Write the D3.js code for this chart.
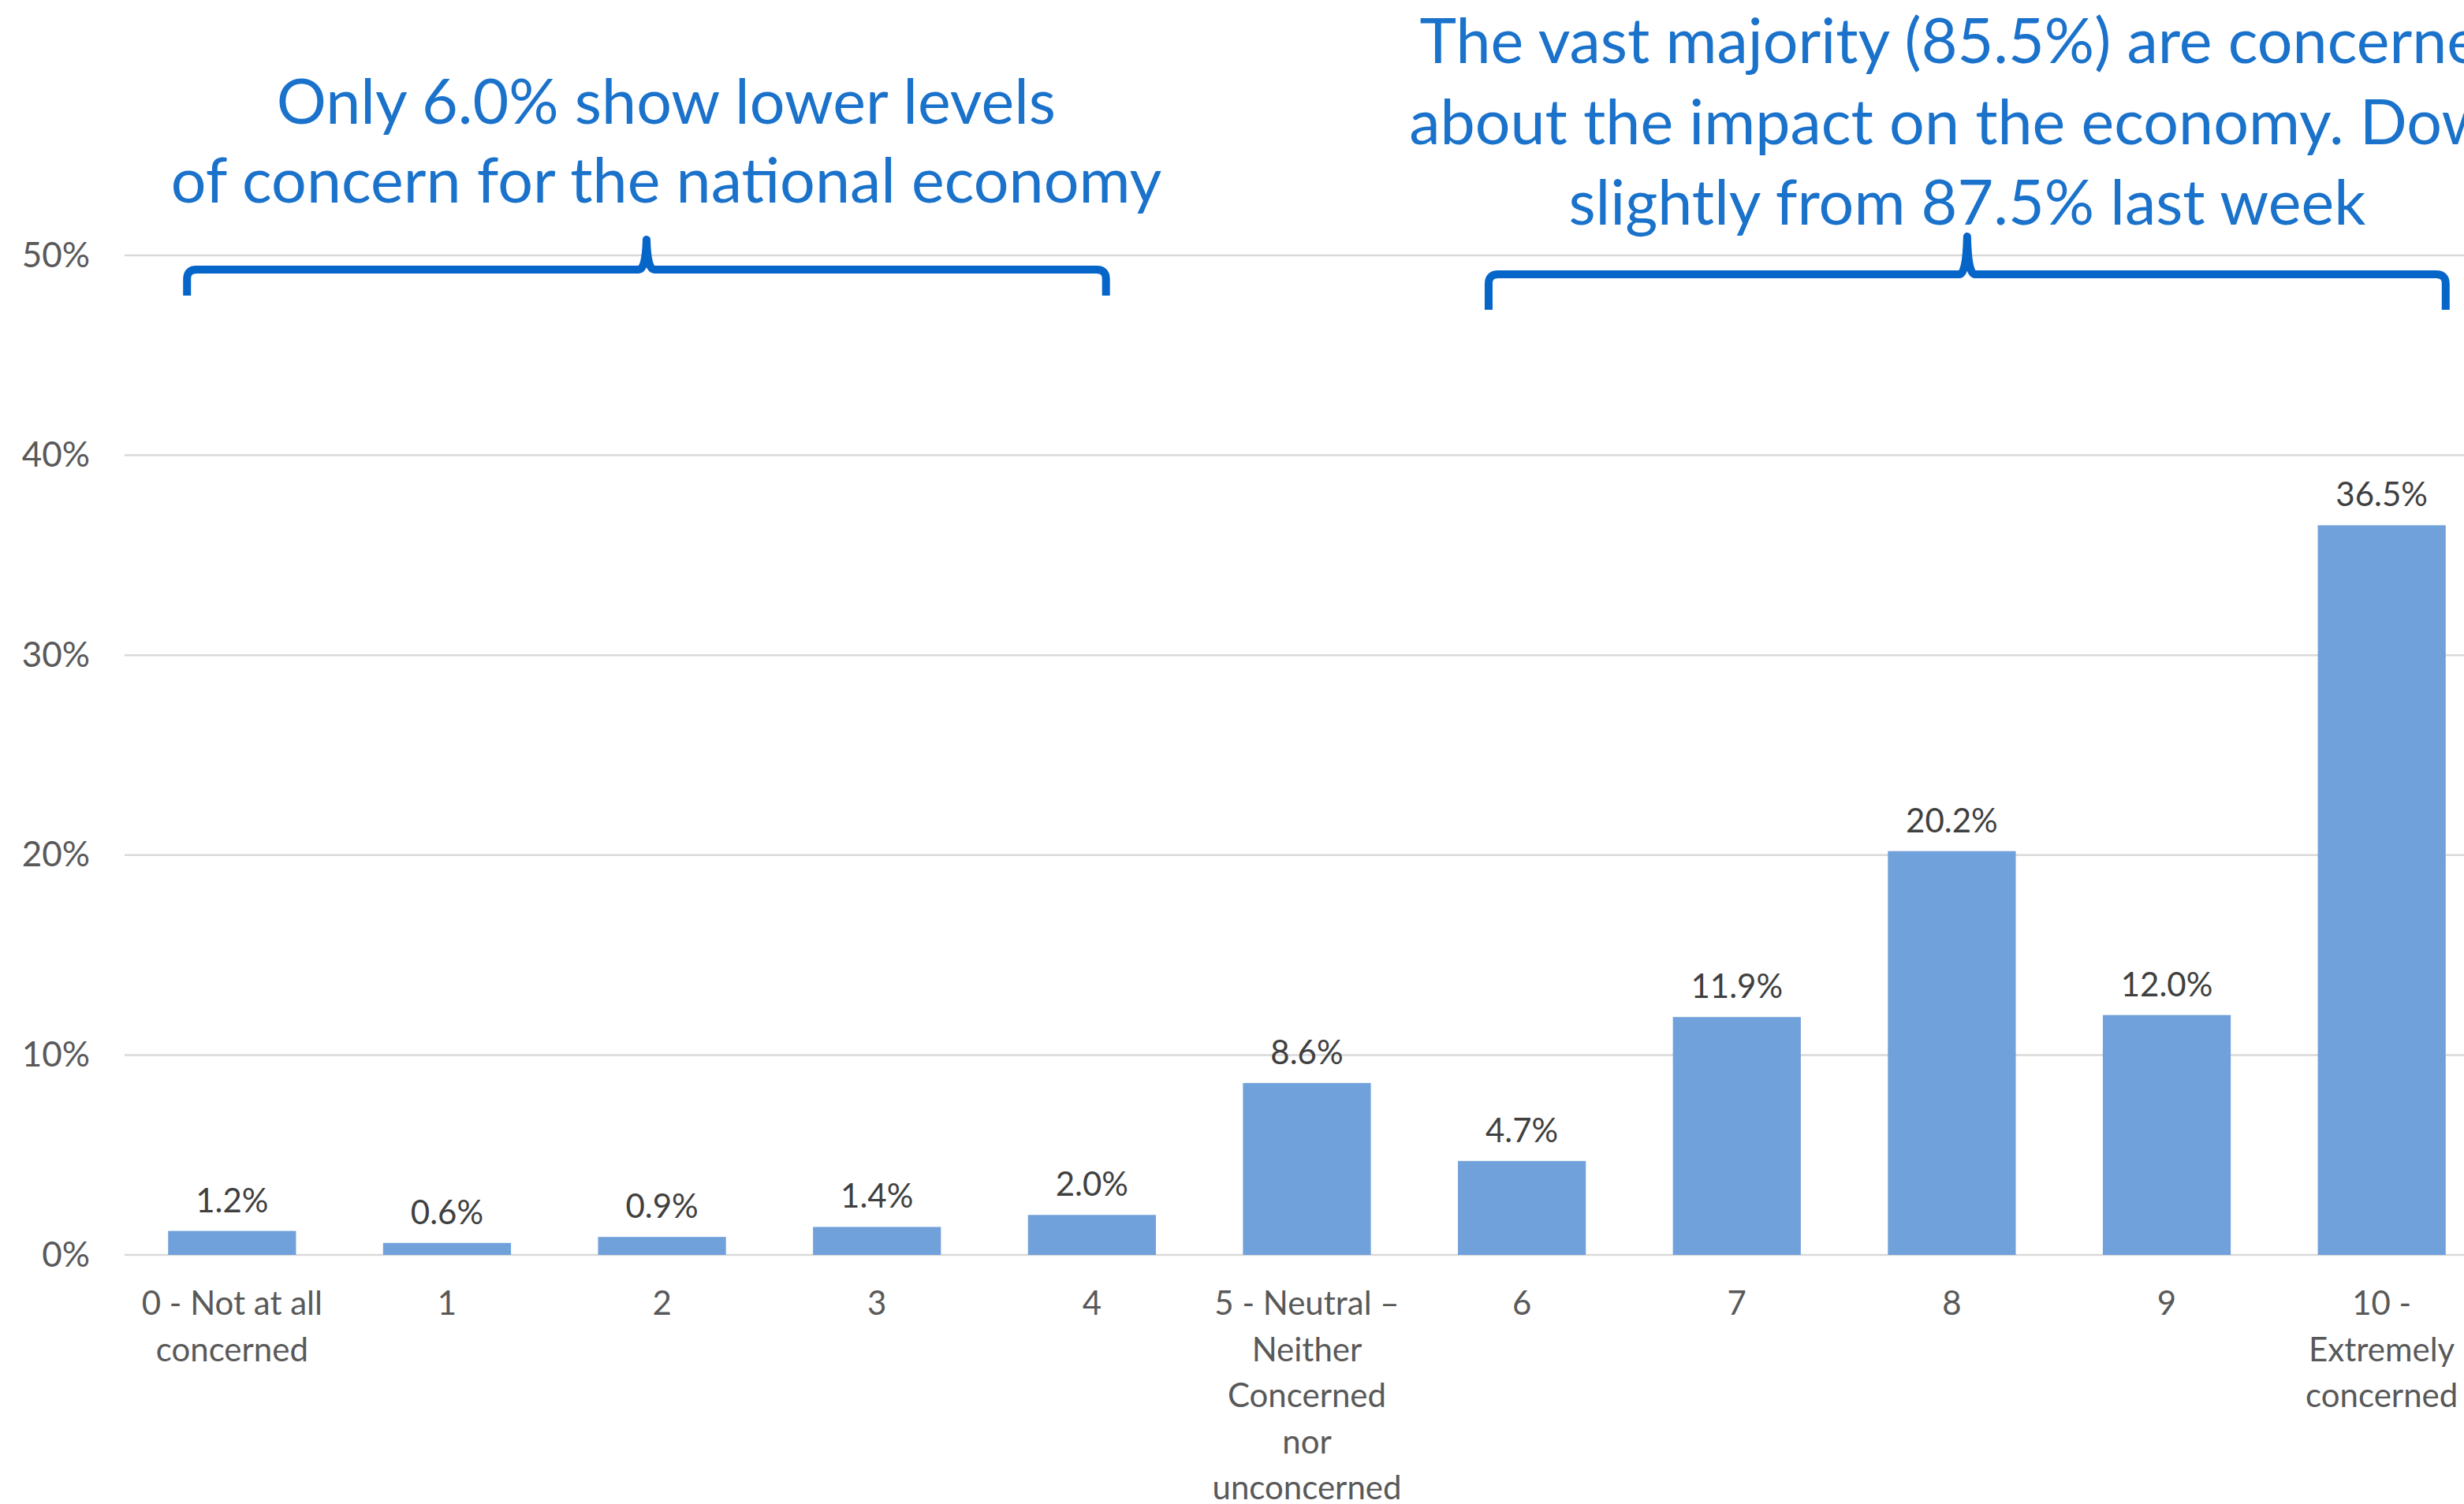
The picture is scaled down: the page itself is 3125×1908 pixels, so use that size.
<!DOCTYPE html>
<html>
<head>
<meta charset="utf-8">
<script src="https://cdn.jsdelivr.net/npm/d3@7"></script>
<style>
  html, body { margin: 0; padding: 0; background: #ffffff; overflow: hidden; }
  svg { display: block; }
</style>
</head>
<body>
<script>
// Concern about the national economy, share of respondents per score (0–10)
const categories = ["0", "1", "2", "3", "4", "5", "6", "7", "8", "9", "10"];
const categoryLabels = [
  ["0 - Not at all", "concerned"],
  ["1"], ["2"], ["3"], ["4"],
  ["5 - Neutral \u2013", "Neither", "Concerned", "nor", "unconcerned"],
  ["6"], ["7"], ["8"], ["9"],
  ["10 -", "Extremely", "concerned"]
];
const values = [1.2, 0.6, 0.9, 1.4, 2.0, 8.6, 4.7, 11.9, 20.2, 12.0, 36.5];
const yTicks = [0, 10, 20, 30, 40, 50];

// Callouts: bracketed groups of categories with their caption lines
const calloutFrom = ["0", "6"];
const calloutTo = ["4", "10"];
const calloutLines = [
  ["Only 6.0% show lower levels", "of concern for the national economy"],
  ["The vast majority (85.5%) are concerned", "about the impact on the economy. Down", "slightly from 87.5% last week"]
];

const W = 3125, H = 1908;
const margin = { left: 158, top: 324, bottom: 1592 };
const plotRight = 3157; // the plot runs a little past the page edge

const svg = d3.select("body").append("svg")
  .attr("width", W).attr("height", H)
  .style("font-family", "Lato, 'Open Sans', sans-serif");

const x = d3.scaleBand().domain(categories)
  .range([margin.left, plotRight]).paddingInner(0.405).paddingOuter(0.2025);
const y = d3.scaleLinear().domain([0, 50]).range([margin.bottom, margin.top]);

// Gridlines
svg.append("g").selectAll("line").data(yTicks).join("line")
  .attr("x1", margin.left).attr("x2", plotRight)
  .attr("y1", d => y(d)).attr("y2", d => y(d))
  .attr("stroke", "#d9d9d9").attr("stroke-width", 2.5);

// Y axis labels
const yAxis = svg.append("g")
  .attr("transform", `translate(114,0)`)
  .call(d3.axisLeft(y).tickValues(yTicks).tickFormat(d => d + "%").tickSize(0).tickPadding(0));
yAxis.select(".domain").remove();
yAxis.selectAll("text")
  .attr("font-size", 44).attr("fill", "#595959")
  .style("font-family", "Lato, 'Open Sans', sans-serif");

// Bars
svg.append("g").selectAll("rect").data(values).join("rect")
  .attr("x", (d, i) => x(categories[i]))
  .attr("width", x.bandwidth())
  .attr("y", d => y(d))
  .attr("height", d => y(0) - y(d))
  .attr("fill", "#71a1da");

// Value labels
svg.append("g").selectAll("text").data(values).join("text")
  .attr("x", (d, i) => x(categories[i]) + x.bandwidth() / 2)
  .attr("y", d => y(d) - 24)
  .attr("text-anchor", "middle")
  .attr("font-size", 42).attr("fill", "#404040")
  .text(d => d.toFixed(1) + "%");

// Category labels (wrapped)
const xl = svg.append("g").selectAll("text").data(categoryLabels).join("text")
  .attr("text-anchor", "middle")
  .attr("font-size", 42).attr("fill", "#595959");
xl.each(function (lines, i) {
  const cx = x(categories[i]) + x.bandwidth() / 2;
  d3.select(this).selectAll("tspan").data(lines).join("tspan")
    .attr("x", cx)
    .attr("y", (d, j) => y(0) + 76 + j * 58.5)
    .text(d => d);
});

// Brackets and captions
const bracketGeom = [
  { a: 0.148, b: 0.61, h: 342, tipH: 38, endH: 33, textDx: 25, base: 157 },
  { a: 0.24, b: 1.0, h: 348, tipH: 48, endH: 45, textDx: 0, base: 80 }
];
const lineGap = [100, 102.5];

calloutFrom.forEach((c, k) => {
  const g = bracketGeom[k];
  const x0 = x(c) + g.a * x.bandwidth();
  const x1 = x(calloutTo[k]) + g.b * x.bandwidth();
  const tip = (x0 + x1) / 2;
  const r = 12, h = g.h;
  const p = d3.path();
  p.moveTo(x0, h + g.endH);
  p.lineTo(x0, h + r);
  p.quadraticCurveTo(x0, h, x0 + r, h);
  p.lineTo(tip - 10, h);
  p.quadraticCurveTo(tip - 1, h, tip, h - g.tipH);
  p.quadraticCurveTo(tip + 1, h, tip + 10, h);
  p.lineTo(x1 - r, h);
  p.quadraticCurveTo(x1, h, x1, h + r);
  p.lineTo(x1, h + g.endH);
  svg.append("path").attr("d", p.toString())
    .attr("fill", "none").attr("stroke", "#0565c9")
    .attr("stroke-width", 10).attr("stroke-linejoin", "round");

  const t = svg.append("text")
    .attr("text-anchor", "middle")
    .attr("font-size", 79).attr("fill", "#1a72cb");
  t.selectAll("tspan").data(calloutLines[k]).join("tspan")
    .attr("x", tip + g.textDx)
    .attr("y", (d, j) => g.base + j * lineGap[k])
    .text(d => d);
});
</script>
</body>
</html>
